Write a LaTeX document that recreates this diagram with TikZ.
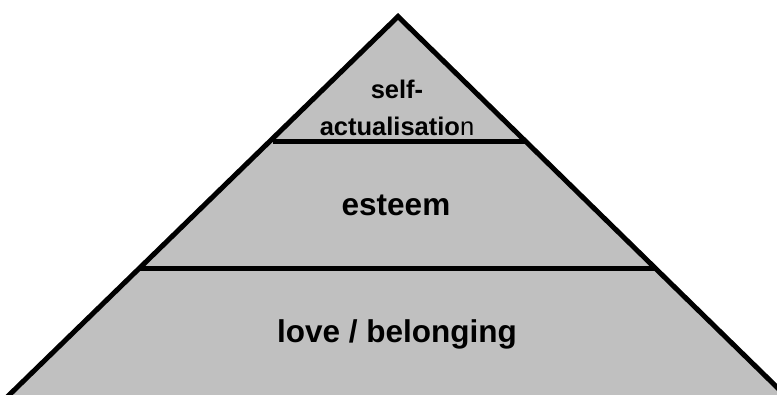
\documentclass[tikz,border=0pt]{standalone}
\usepackage{fontspec}
\setmainfont{Liberation Sans}
\definecolor{layergray}{RGB}{192,192,192}
\begin{document}
\begin{tikzpicture}[x=1pt,y=-1pt,
  edge/.style={line width=5pt,black},
  bigtxt/.style={anchor=base,inner sep=0pt,font=\fontsize{31.5}{36}\selectfont\bfseries},
  smalltxt/.style={anchor=base,inner sep=0pt,font=\fontsize{25.5}{30}\selectfont\bfseries}]
\clip (0,0) rectangle (777,394);
\useasboundingbox (0,0) rectangle (777,394);
\coordinate (apex) at (398,16.5);
\coordinate (bl) at (4,400);
\coordinate (br) at (790,400);
\coordinate (d1l) at (273,141);
\coordinate (d1r) at (527,141);
\coordinate (d2l) at (140,268);
\coordinate (d2r) at (656,268);
\fill[layergray] (bl) -- (apex) -- (br) -- cycle;
\draw[edge,line join=miter] (bl) -- (apex) -- (br);
\draw[edge] (d1l) -- (d1r);
\draw[edge] (d2l) -- (d2r);
\node[smalltxt] (self) at (397,98) {self-};
\node[smalltxt] (actual) at (397,135) {actualisatio\mdseries n};
\node[bigtxt] (esteem) at (396,215) {esteem};
\node[bigtxt] (love) at (397,342) {love / belonging};
\end{tikzpicture}
\end{document}
